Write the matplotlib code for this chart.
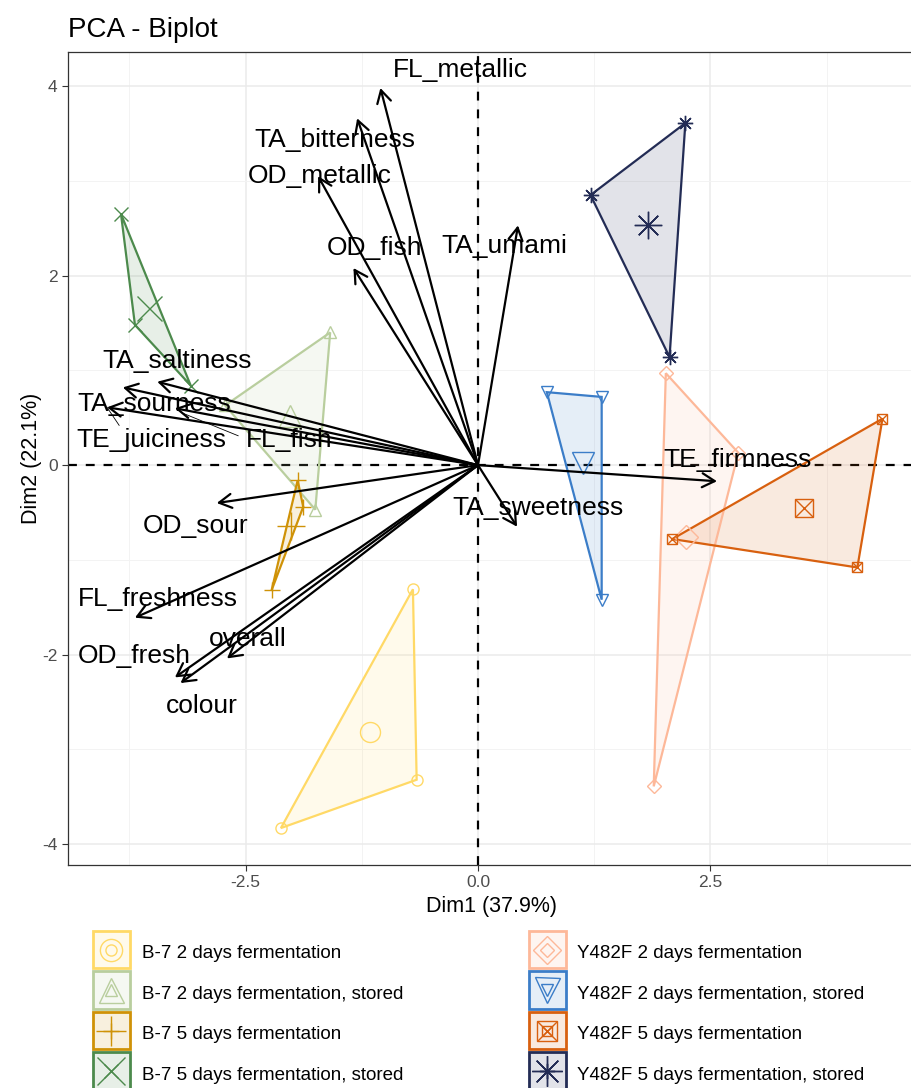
import numpy as np
import matplotlib.pyplot as plt
from matplotlib.lines import Line2D
from matplotlib.patches import Rectangle
from matplotlib.colors import to_rgb
from matplotlib.legend_handler import HandlerTuple, HandlerPatch, HandlerLine2D
from matplotlib.ticker import MultipleLocator

plt.rcParams['font.family'] = ['Liberation Sans', 'DejaVu Sans']
plt.rcParams['axes.unicode_minus'] = False

# variable loadings (arrow tips)
var_names = ['FL_metallic', 'TA_bitterness', 'OD_metallic', 'OD_fish', 'TA_umami',
             'TA_saltiness', 'TA_sourness', 'TE_juiciness', 'FL_fish', 'OD_sour',
             'FL_freshness', 'OD_fresh', 'overall', 'colour', 'TA_sweetness', 'TE_firmness']
var_x = [-1.05, -1.30, -1.72, -1.34, 0.43, -3.45, -3.82, -3.99, -3.26, -2.81,
         -3.69, -3.26, -2.70, -3.20, 0.42, 2.57]
var_y = [3.98, 3.66, 3.05, 2.08, 2.53, 0.88, 0.82, 0.61, 0.60, -0.40,
         -1.61, -2.24, -2.04, -2.30, -0.65, -0.17]

# individuals, three per group
groups = ['B-7 2 days fermentation', 'B-7 2 days fermentation, stored',
          'B-7 5 days fermentation', 'B-7 5 days fermentation, stored',
          'Y482F 2 days fermentation', 'Y482F 2 days fermentation, stored',
          'Y482F 5 days fermentation', 'Y482F 5 days fermentation, stored']
ind_x = [[-0.70, -0.66, -2.12], [-1.59, -2.72, -1.75], [-1.94, -1.88, -2.22], [-3.84, -3.69, -3.09],
         [2.02, 2.80, 1.89], [0.74, 1.33, 1.33], [4.35, 2.09, 4.08], [2.23, 1.21, 2.06]]
ind_y = [[-1.31, -3.32, -3.83], [1.40, 0.63, -0.47], [-0.16, -0.44, -1.32], [2.65, 1.48, 0.84],
         [0.97, 0.13, -3.39], [0.77, 0.72, -1.42], [0.49, -0.78, -1.08], [3.61, 2.85, 1.14]]

# label placement for the variable names
lab_x = [-0.19, -1.54, -1.70, -1.11, 0.28, -3.24, -3.48, -3.51, -2.03, -3.04,
         -3.44, -3.70, -2.48, -2.97, 0.65, 2.79]
lab_y = [4.17, 3.43, 3.05, 2.29, 2.31, 1.10, 0.65, 0.27, 0.27, -0.64,
         -1.41, -2.01, -1.84, -2.54, -0.45, 0.05]

colors = ['#FFD966', '#B9CE9E', '#CF9207', '#4C8A4C',
          '#FDB899', '#3B7DC8', '#D8600F', '#232C55']
markers = [['o'], ['^'], ['+'], ['x'], ['D'], ['v'], ['s', 'x'], [(8, 2, 0)]]
msize = [8, 9, 11, 10, 7, 9, 7, 11]


def key_box(legend, orig_handle, xdescent, ydescent, width, height, fontsize):
    # lift the square a little so it sits level with the label text
    return Rectangle((-xdescent, -ydescent + 2.2), width, height)


class KeyMarker(HandlerLine2D):
    # drop the marker onto the middle of the square
    def create_artists(self, legend, orig_handle, xdescent, ydescent,
                       width, height, fontsize, trans):
        return super().create_artists(legend, orig_handle, xdescent, ydescent + 5.2,
                                      width, height, fontsize, trans)


fig = plt.figure(figsize=(9.11, 10.88), dpi=100)
ax = fig.add_axes([68 / 911, 1 - 865 / 1088, 847 / 911, 813 / 1088])
ax.set_xlim(-4.41, 4.70)
ax.set_ylim(-4.22, 4.36)

ax.xaxis.set_major_locator(MultipleLocator(2.5))
ax.xaxis.set_minor_locator(MultipleLocator(1.25))
ax.yaxis.set_major_locator(MultipleLocator(2))
ax.yaxis.set_minor_locator(MultipleLocator(1))
ax.grid(which='major', color='#EBEBEB', lw=1.1, zorder=0)
ax.grid(which='minor', color='#F3F3F3', lw=0.7, zorder=0)
ax.set_axisbelow(True)
ax.tick_params(which='minor', length=0)
ax.tick_params(which='major', length=4, width=0.8, color='#333333',
               labelcolor='#4D4D4D', labelsize=12.5)
for s in ax.spines.values():
    s.set_color('#333333')
    s.set_linewidth(0.9)

ax.axhline(0, color='black', ls=(0, (4, 4)), lw=1.6, zorder=1)
ax.axvline(0, color='black', ls=(0, (4, 4)), lw=1.6, zorder=1)

handles = []
for i, g in enumerate(groups):
    c = colors[i]
    xs, ys = ind_x[i], ind_y[i]
    ax.fill(xs, ys, color=c, alpha=0.13, lw=0, zorder=2)
    ax.fill(xs, ys, facecolor='none', edgecolor=c, lw=1.6, zorder=3)
    mx, my = np.mean(xs), np.mean(ys)
    box = Rectangle((0, 0), 1, 1, facecolor=(*to_rgb(c), 0.13), edgecolor=c, lw=2)
    parts = [box]
    for m in markers[i]:
        ax.plot(xs, ys, ls='none', marker=m, ms=msize[i], mfc='none', mec=c, mew=1.0, zorder=4)
        ax.plot([mx], [my], ls='none', marker=m, ms=msize[i] * 1.8, mfc='none', mec=c, mew=1.0, zorder=4)
        parts.append(Line2D([], [], ls='none', marker=m, ms=msize[i], mfc='none', mec=c, mew=1.0))
        parts.append(Line2D([], [], ls='none', marker=m, ms=msize[i] * 2.0, mfc='none', mec=c, mew=1.0))
    handles.append(tuple(parts))

for i, name in enumerate(var_names):
    ax.annotate('', xy=(var_x[i], var_y[i]), xytext=(0, 0),
                arrowprops=dict(arrowstyle='->, head_length=0.5, head_width=0.28',
                                lw=1.6, color='black', shrinkA=0, shrinkB=0,
                                mutation_scale=18), zorder=5)
    ax.text(lab_x[i], lab_y[i], name, fontsize=19, ha='center', va='center', zorder=6)

# repel leader segments
ax.plot([-3.99, -3.86], [0.61, 0.42], color='black', lw=0.6, zorder=5)
ax.plot([-3.18, -2.58], [0.55, 0.31], color='black', lw=0.6, zorder=5)

ax.set_xlabel('Dim1 (37.9%)', fontsize=15.5, labelpad=4)
ax.set_ylabel('Dim2 (22.1%)', fontsize=15.5, labelpad=0)
fig.text(68 / 911, 1 - 30 / 1088, 'PCA - Biplot', fontsize=20, ha='left', va='center')

fig.legend(handles, groups,
           handler_map={tuple: HandlerTuple(ndivide=1),
                        Rectangle: HandlerPatch(patch_func=key_box),
                        Line2D: KeyMarker()},
           loc='upper left', bbox_to_anchor=(93 / 911, 1 - 934 / 1088), ncol=2,
           frameon=False, fontsize=13.5, handlelength=1.97, handleheight=2.7,
           labelspacing=0.16, handletextpad=0.62, columnspacing=6.7,
           borderpad=0, borderaxespad=0, numpoints=1)

fig.savefig('out.png', dpi=100)
